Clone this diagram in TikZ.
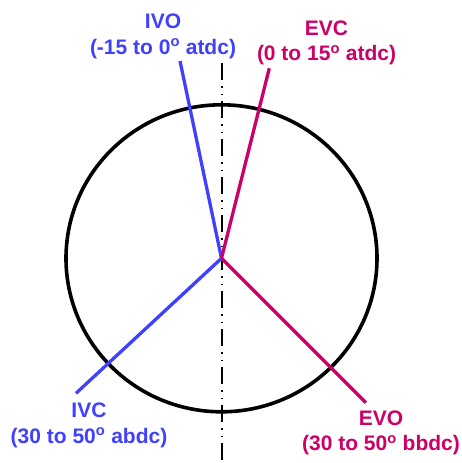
\documentclass[tikz,border=0pt]{standalone}
\usepackage{fontspec}
\setmainfont{Liberation Sans}
\definecolor{ivblue}{RGB}{64,64,255}
\definecolor{evmag}{RGB}{204,0,102}
\tikzset{
  lbl/.style={font=\fontsize{21}{25.5}\selectfont\bfseries, align=center, inner sep=0pt, anchor=center},
  ivline/.style={draw=ivblue, line width=3.3pt},
  evline/.style={draw=evmag, line width=3.3pt},
  axisline/.style={draw=black, line width=2.2pt, dash pattern=on 17pt off 6pt on 1.5pt off 6pt on 1.5pt off 6pt},
  rim/.style={draw=black, line width=3.6pt}
}
\newcommand{\dg}{\textsuperscript{o}}
\begin{document}
\begin{tikzpicture}[x=1pt,y=-1pt]
\useasboundingbox (0,0) rectangle (462,463);
% axis
\coordinate (ax1) at (222.3,63.3);
\coordinate (ax2) at (222.3,460.5);
\draw[axisline] (ax1) -- (ax2);
% circle
\coordinate (o) at (221.5,258.3);
\draw[rim] (o) ellipse [x radius=155.5pt, y radius=153.5pt];
% end points
\coordinate (ivo) at (180,61);
\coordinate (evc) at (269.3,68.3);
\coordinate (ivc) at (76,393.3);
\coordinate (evo) at (366,402.7);
\draw[ivline] (o) -- (ivo);
\draw[evline] (o) -- (evc);
\draw[ivline] (o) -- (ivc);
\draw[evline] (o) -- (evo);
% labels
\node[lbl, text=ivblue] (tivo) at (163,36.3) {IVO\\(-15 to 0\dg{} atdc)};
\node[lbl, text=evmag] (tevc) at (326.5,43) {EVC\\(0 to 15\dg{} atdc)};
\node[lbl, text=ivblue] (tivc) at (89,425.3) {IVC\\(30 to 50\dg{} abdc)};
\node[lbl, text=evmag] (tevo) at (381,433) {EVO\\(30 to 50\dg{} bbdc)};
\end{tikzpicture}
\end{document}
